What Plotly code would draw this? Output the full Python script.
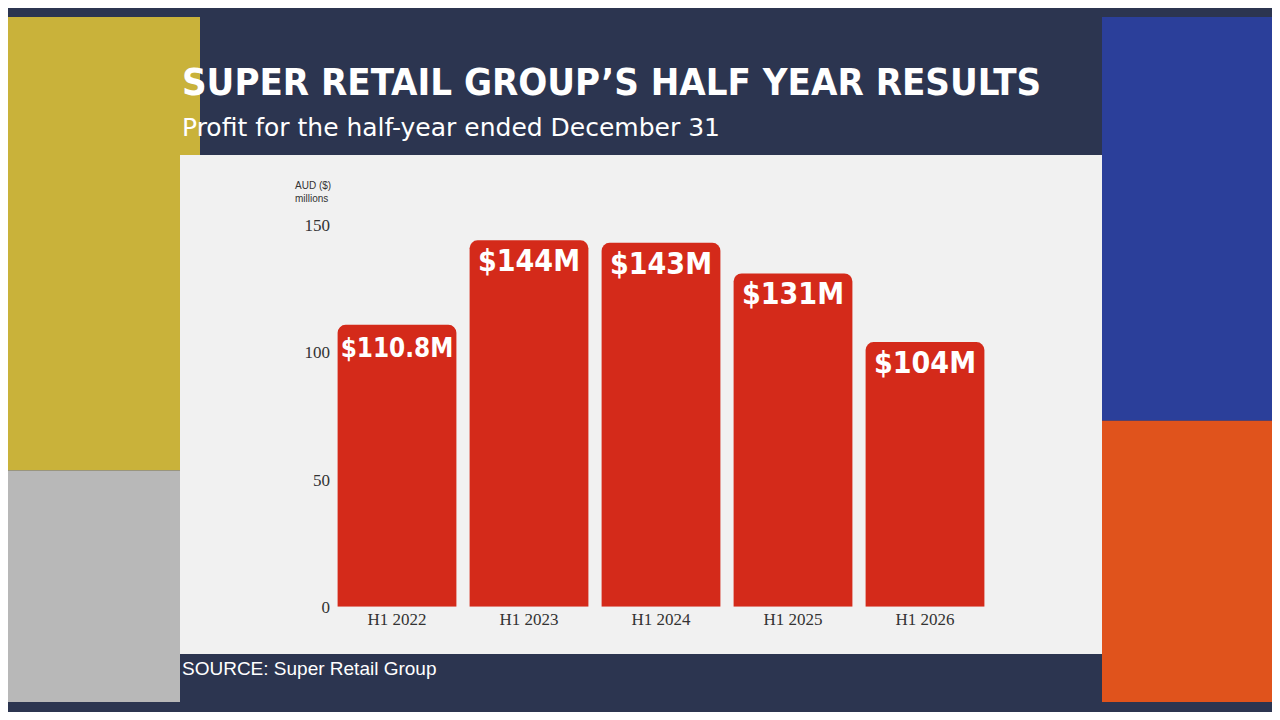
import plotly.graph_objects as go

categories = ["H1 2022", "H1 2023", "H1 2024", "H1 2025", "H1 2026"]
profits = [110.8, 144, 143, 131, 104]
labels = ["$110.8M", "$144M", "$143M", "$131M", "$104M"]
y_ticks = [0, 50, 100, 150]

OFF = 8
W, H = 1280 - 2 * OFF, 720 - 2 * OFF
def px(x): return (x - OFF) / W
def py(y): return 1 - ((y - 17.4) / 0.971) / H

COND = "DejaVu Sans Condensed"

fig = go.Figure(go.Bar(
    x=categories, y=profits, text=labels, textposition="inside",
    insidetextanchor="end", width=0.9, textangle=0, constraintext="none",
    textfont=dict(family=COND, size=30, color="white", weight="bold"),
    marker=dict(color="#d42a1a", cornerradius=8, line=dict(width=0)),
    cliponaxis=False,
))

shapes = [
    dict(type="rect", xref="paper", yref="paper", x0=0, x1=px(200), y0=py(470), y1=1, fillcolor="#c9b23a", line_width=0, layer="below"),
    dict(type="rect", xref="paper", yref="paper", x0=0, x1=px(180), y0=0, y1=py(470), fillcolor="#b8b8b8", line_width=0, layer="below"),
    dict(type="rect", xref="paper", yref="paper", x0=px(1102), x1=1, y0=0, y1=py(420), fillcolor="#e0531c", line_width=0, layer="below"),
    dict(type="rect", xref="paper", yref="paper", x0=px(1102), x1=1, y0=py(420), y1=1, fillcolor="#2b3f9a", line_width=0, layer="below"),
    dict(type="rect", xref="paper", yref="paper", x0=px(180), x1=px(1102), y0=py(653), y1=py(155),
         fillcolor="#f1f1f1", line_width=0, layer="below"),
]

fig.update_layout(
    width=W, height=H, margin=dict(l=0, r=0, t=0, b=0),
    paper_bgcolor="#2c3550", plot_bgcolor="rgba(0,0,0,0)",
    shapes=shapes, showlegend=False,
    xaxis=dict(domain=[px(331), px(991)], showgrid=False, showline=False, ticks="",
               tickfont=dict(family="Liberation Serif", size=17, color="#333")),
    yaxis=dict(domain=[py(606), py(225)], range=[0, 150], tickvals=y_ticks, showgrid=False,
               zeroline=False, showline=False, ticks="",
               tickfont=dict(family="Liberation Serif", size=17, color="#333")),
    annotations=[
        dict(text="<b>SUPER RETAIL GROUP’S HALF YEAR RESULTS</b>", x=px(180), y=py(82), xref="paper", yref="paper",
             xanchor="left", yanchor="middle", showarrow=False,
             font=dict(family=COND, size=38, color="white")),
        dict(text="Profit for the half-year ended December 31", x=px(180), y=py(128), xref="paper", yref="paper",
             xanchor="left", yanchor="middle", showarrow=False,
             font=dict(family="DejaVu Sans", size=25, color="white")),
        dict(text="AUD ($)<br>millions", x=px(333), y=py(192), xref="paper", yref="paper",
             xanchor="right", yanchor="middle", showarrow=False, align="left",
             font=dict(family="Liberation Sans", size=10, color="#333")),
        dict(text="SOURCE: Super Retail Group", x=px(180), y=py(668), xref="paper", yref="paper",
             xanchor="left", yanchor="middle", showarrow=False,
             font=dict(family="Liberation Sans", size=19, color="white")),
    ],
)
fig.write_html("out.html")
